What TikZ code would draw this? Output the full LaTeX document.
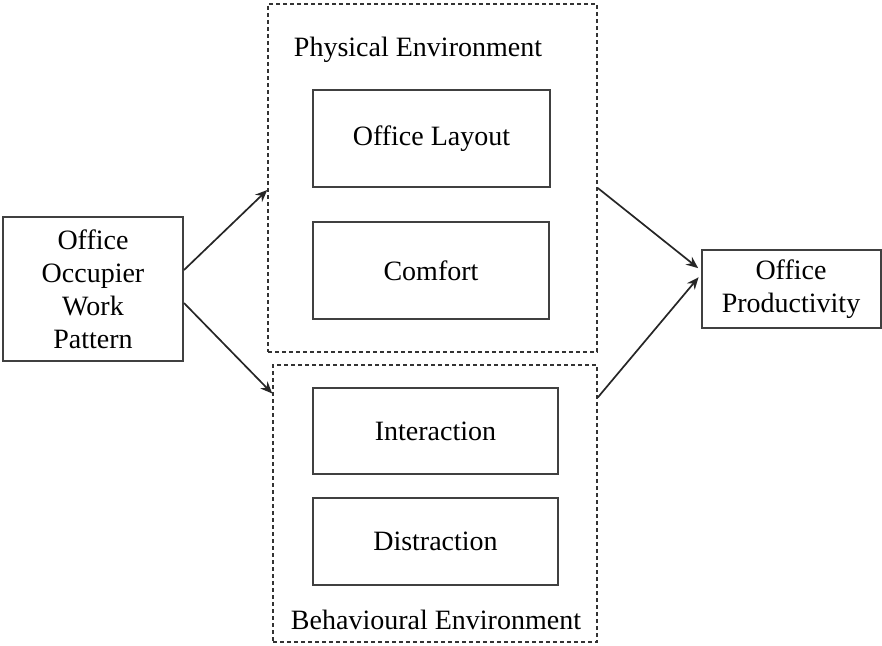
\documentclass[tikz,border=0pt]{standalone}
\usepackage{fontspec}
\setmainfont{Liberation Serif}
\usetikzlibrary{arrows.meta}
\begin{document}
\begin{tikzpicture}[x=1pt,y=-1pt,
  solidbox/.style={draw=black!75,line width=2pt,rectangle,inner sep=0pt,font=\fontsize{28}{33}\selectfont,align=center},
  groupbox/.style={draw=black!80,line width=1.5pt,dash pattern=on 4pt off 3pt,rectangle,inner sep=0pt},
  lbl/.style={inner sep=0pt,font=\fontsize{28}{33}\selectfont},
  conn/.style={line width=1.7pt,draw=black!85,-{Stealth[length=12pt,width=10pt]}}]
\useasboundingbox (0,0) rectangle (882,645);
\node[solidbox,minimum width=180pt,minimum height=144pt] (occ) at (93,289) {Office\\Occupier\\Work\\Pattern};
\node[groupbox,minimum width=329pt,minimum height=348pt] (phys) at (432.5,178) {};
\node[lbl] (physl) at (418,50) {Physical Environment};
\node[solidbox,minimum width=237pt,minimum height=97pt] (layout) at (431.5,138.5) {Office Layout};
\node[solidbox,minimum width=236pt,minimum height=97pt] (comfort) at (431,270.5) {Comfort};
\node[groupbox,minimum width=324pt,minimum height=277pt] (behav) at (435,503.5) {};
\node[solidbox,minimum width=245pt,minimum height=86pt] (inter) at (435.5,431) {Interaction};
\node[solidbox,minimum width=245pt,minimum height=87pt] (distr) at (435.5,541.5) {Distraction};
\node[lbl] (behavl) at (436,620) {Behavioural Environment};
\node[solidbox,minimum width=179pt,minimum height=78pt] (prod) at (791,289) {\raisebox{-4pt}{\parbox{170pt}{\centering Office\\Productivity}}};
\draw[conn] ([yshift=19pt]occ.east) -- ([yshift=-12pt]phys.west);
\draw[conn] ([yshift=-14pt]occ.east) -- ([yshift=110pt]behav.west);
\draw[conn,shorten >=3pt] ([yshift=-10pt]phys.east) -- ([yshift=19pt]prod.west);
\draw[conn,shorten >=3pt] ([yshift=106pt]behav.east) -- ([yshift=14pt]prod.west);
\end{tikzpicture}
\end{document}
